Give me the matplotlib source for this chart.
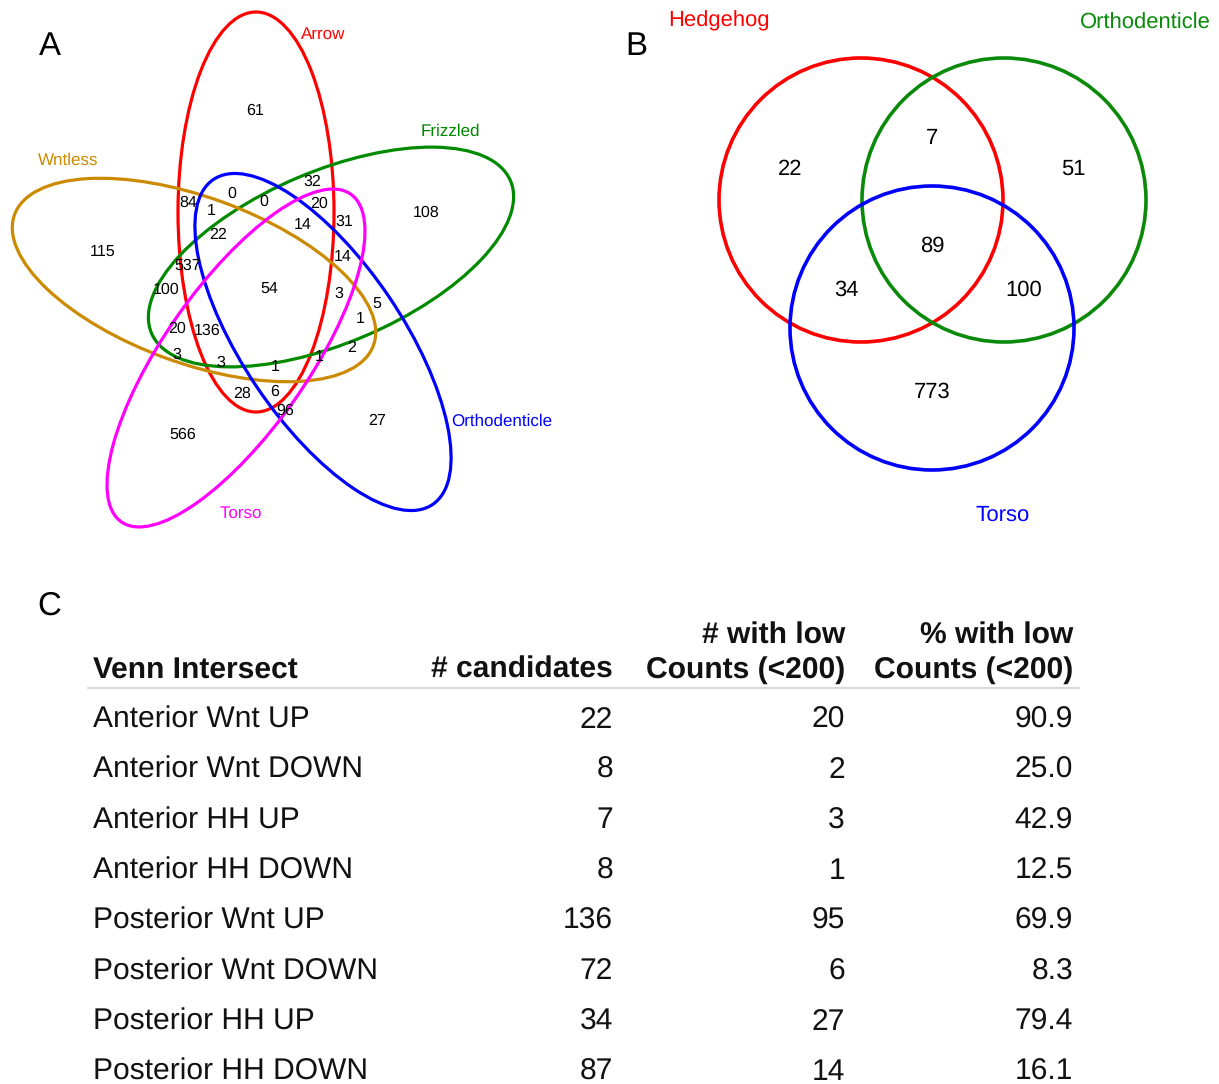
import matplotlib
matplotlib.use("Agg")
import matplotlib.pyplot as plt
from matplotlib.patches import Ellipse, Circle

plt.rcParams["text.hinting"] = "no_hinting"
plt.rcParams["text.hinting_factor"] = 1

# ---------------- data ----------------
a_sets = ["Arrow", "Frizzled", "Wntless", "Orthodenticle", "Torso"]
a_counts = [61, 84, 0, 1, 0, 32, 20, 14, 31, 22, 108, 115, 537, 14, 100, 54,
            3, 5, 1, 20, 136, 2, 3, 3, 1, 1, 28, 6, 96, 566, 27]
b_sets = ["Hedgehog", "Orthodenticle", "Torso"]
b_counts = [22, 7, 51, 89, 34, 100, 773]

tbl_header = [["Venn Intersect"], ["# candidates"], ["# with low", "Counts (<200)"],
              ["% with low", "Counts (<200)"]]
tbl_rows = ["Anterior Wnt UP", "Anterior Wnt DOWN", "Anterior HH UP", "Anterior HH DOWN",
            "Posterior Wnt UP", "Posterior Wnt DOWN", "Posterior HH UP", "Posterior HH DOWN"]
tbl_candidates = [22, 8, 7, 8, 136, 72, 34, 87]
tbl_low = [20, 2, 3, 1, 95, 6, 27, 14]
tbl_pct = [90.9, 25.0, 42.9, 12.5, 69.9, 8.3, 79.4, 16.1]

# ---------------- layout / style ----------------
FONT = "Liberation Sans"
W, H = 1219, 1084
fig = plt.figure(figsize=(W / 100, H / 100), dpi=100)
ax = fig.add_axes([0, 0, 1, 1])
ax.set_xlim(0, W)
ax.set_ylim(H, 0)
ax.axis("off")

# Panel A ellipses: (cx, cy, width, height, angle) in pixel coords (y down)
a_colors = ["#FF0000", "#008A00", "#CC8A00", "#0000FF", "#FF00FF"]
a_geom = [(256, 212, 156, 400, 0),
          (331, 257, 390, 172, -23),
          (194, 280, 382, 166, 20),
          (323, 342, 392, 160, 56),
          (236, 358, 400, 144, -55)]
for (cx, cy, w, h, ang), c in zip(a_geom, a_colors):
    if h > w:
        w, h = h, w
        ang = ang + 90
    ax.add_patch(Ellipse((cx, cy), w, h, angle=ang, fill=False, ec=c, lw=2.3))

a_label_pos = [(323, 34), (450, 131), (68, 160), (502, 421), (241, 513)]
for name, (x, y), c in zip(a_sets, a_label_pos, a_colors):
    ax.text(x, y, name, color=c, fontsize=12.3, ha="center", va="center", family=FONT)

a_num_pos = [(255, 110), (188, 202), (232, 193), (211, 210), (264, 201), (312, 181),
             (319, 203), (303, 224), (344, 221), (218, 234), (426, 212), (103, 251),
             (188, 265), (343, 256), (166, 289), (269, 288), (339, 293), (377, 303),
             (360, 318), (177, 328), (207, 330), (352, 347), (177, 354), (221, 362),
             (275, 366), (319, 356), (242, 393), (275, 391), (285, 410), (183, 434),
             (377, 420)]
for v, (x, y) in zip(a_counts, a_num_pos):
    ax.text(x, y + 1, str(v), fontsize=11.5, ha="center", va="center",
            family=FONT, color="black")

# Panel B circles
b_colors = ["#FF0000", "#0A8A0A", "#0000FF"]
b_geom = [(861, 200, 142), (1004, 200, 142), (932, 328, 142)]
for (cx, cy, r), c in zip(b_geom, b_colors):
    ax.add_patch(Circle((cx, cy), r, fill=False, ec=c, lw=2.6))
b_label_pos = [(719, 21), (1145, 23), (1003, 515)]
for name, (x, y), c in zip(b_sets, b_label_pos, b_colors):
    ax.text(x, y, name, color=c, fontsize=16, ha="center", va="center", family=FONT)
b_num_pos = [(790, 169), (932, 138), (1073, 169), (932, 246), (846, 290), (1024, 290), (932, 392)]
for v, (x, y) in zip(b_counts, b_num_pos):
    ax.text(x, y, str(v), fontsize=16, ha="center", va="center", family=FONT)

# Panel letters
for lab, (x, y) in zip(["A", "B", "C"], [(50, 46), (636, 46), (49, 606)]):
    ax.text(x, y, lab, fontsize=24, ha="center", va="center", family=FONT)

# Panel C table
col_x = [93, 613, 845, 1073]
col_ha = ["left", "right", "right", "right"]
for lines, x, ha in zip(tbl_header, col_x, col_ha):
    for k, line in enumerate(reversed(lines)):
        ax.text(x, 670 - 34 * k, line, fontsize=21.4, fontweight="bold", ha=ha,
                va="center", color="#111111", family=FONT)
ax.plot([88, 1079], [688, 688], color="#d0d0d0", lw=1.2)
row_y0, row_dy = 720, 50.3
for i, (r, c, l, p) in enumerate(zip(tbl_rows, tbl_candidates, tbl_low, tbl_pct)):
    y = row_y0 + i * row_dy
    vals = [r, str(c), str(l), f"{p:.1f}"]
    for txt, x, ha in zip(vals, col_x, col_ha):
        ax.text(x, y, txt, fontsize=21.6, ha=ha, va="center", color="#111111", family=FONT)

fig.savefig("out.png", dpi=100)
